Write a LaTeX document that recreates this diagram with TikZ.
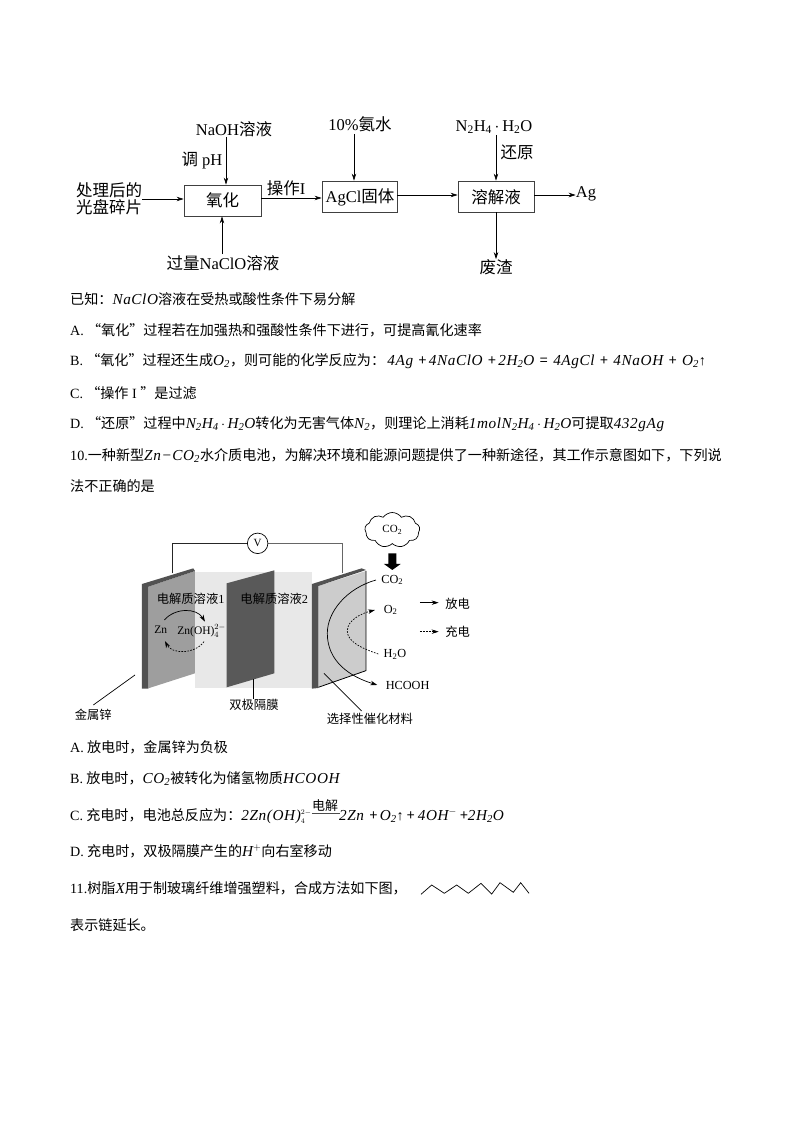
\documentclass[tikz,border=0pt]{standalone}
\usepackage{fontspec}
\usetikzlibrary{shapes.symbols,arrows.meta}
\setmainfont{Noto Sans CJK SC}
\newfontfamily\latfont{Liberation Serif}
\newfontfamily\itf[Scale=1.08,LetterSpace=4]{Liberation Serif}
\newcommand{\Lt}[1]{{\latfont #1}}
\newcommand{\It}[1]{{\itf\itshape #1}}
\newcommand{\dn}[1]{\textsubscript{#1}}
\tikzset{
 body/.style={anchor=base west,inner sep=0pt,font=\fontsize{14.1}{15}\selectfont},
 flow/.style={inner sep=0pt,font=\fontsize{16.5}{18}\selectfont},
 cell/.style={inner sep=0pt,font=\fontsize{12.3}{14}\selectfont},
 fbox/.style={draw=black!75,line width=.8pt,inner sep=0pt},
 arr/.style={-{Stealth[length=7pt,width=4.5pt]},line width=.7pt},
 lead/.style={line width=.7pt},
 dsh/.style={dash pattern=on 1.6pt off 1.4pt}
}
\begin{document}
\begin{tikzpicture}[x=1pt,y=-1pt]
\useasboundingbox (0,0) rectangle (794,1123);
% flow chart
\node[fbox,minimum width=77pt,minimum height=31pt] (b1) at (222.5,200.5) {};
\node[flow] (b1t) at (222.5,200.5) {氧化};
\node[fbox,minimum width=75pt,minimum height=31pt] (b2) at (359.5,196.5) {};
\node[flow] (b2t) at (360,197) {\Lt{AgCl}固体};
\node[fbox,minimum width=76pt,minimum height=31pt] (b3) at (496,196.5) {};
\node[flow] (b3t) at (496,197) {溶解液};
\node[flow] (naoh) at (234,129) {\Lt{NaOH}溶液};
\node[flow] (ph) at (202,161) {调\Lt{ pH}};
\node[flow,align=center] (src) at (109,199) {处理后的\\[-1pt]光盘碎片};
\node[flow] (op) at (286,188) {操作\Lt{I}};
\node[flow] (nh3) at (360,124) {\Lt{10\%}氨水};
\node[flow] (n2) at (494,127) {\Lt{N\dn{2}H\dn{4}\,$\cdot$\,H\dn{2}O}};
\node[flow] (red) at (517,152) {还原};
\node[flow] (ag) at (586,194) {\Lt{Ag}};
\node[flow] (waste) at (496,267) {废渣};
\node[flow] (clo) at (223,263) {过量\Lt{NaClO}溶液};
\coordinate (c1) at (226,137);
\coordinate (c2) at (354,134);
\coordinate (c3) at (496,135);
\coordinate (c4) at (222,254);
\coordinate (y1) at (0,199);
\coordinate (y2) at (0,198);
\coordinate (y3) at (0,195);
\draw[arr] (c1) -- (c1 |- b1.north);
\draw[arr] (c2) -- (c2 |- b2.north);
\draw[arr] (c3) -- (c3 |- b3.north);
\draw[arr] (c4) -- (c4 |- b1.south);
\draw[arr] (src.east |- y1) -- (b1.west |- y1);
\draw[arr] (b1.east |- y2) -- (b2.west |- y2);
\draw[arr] (b2.east |- y3) -- (b3.west |- y3);
\draw[arr] (b3.east |- y3) -- (ag.west |- y3);
\draw[arr] (b3.south) -- (waste.north);
% text block 1
\node[body] (t1) at (70,304) {已知：\It{NaClO}溶液在受热或酸性条件下易分解};
\node[body] (t2) at (70,335) {\Lt{A.} “氧化”过程若在加强热和强酸性条件下进行，可提高氰化速率};
\node[body] (t3) at (70,365) {\Lt{B.} “氧化”过程还生成\It{O\dn{2}}，则可能的化学反应为：\,\It{4Ag} \,+\,\It{4NaClO} \,+\,\It{2H\dn{2}O} \,=\, \It{4AgCl} \,+\, \It{4NaOH} \,+\, \It{O\dn{2}}\Lt{↑}};
\node[body] (t4) at (70,398) {\Lt{C.} “操作\Lt{ I }”是过滤};
\node[body] (t5) at (70,428) {\Lt{D.} “还原”过程中\It{N\dn{2}H\dn{4}\,$\cdot$\,H\dn{2}O}转化为无害气体\It{N\dn{2}}，则理论上消耗\It{1molN\dn{2}H\dn{4}\,$\cdot$\,H\dn{2}O}可提取\It{432gAg}};
\node[body] (t6) at (70,460) {\Lt{10.}一种新型\It{Zn−CO\dn{2}}水介质电池，为解决环境和能源问题提供了一种新途径，其工作示意图如下，下列说};
\node[body] (t7) at (70,491) {法不正确的是};
% battery
\begin{scope}[shift={(60,505)},x=.3333pt,y=-.3333pt]
\fill[black!9] (405,202) rectangle (757,550);
\draw[line width=.8pt,black!85] (337,205) -- (337,115) -- (562,115);
\draw[line width=.8pt,black!60] (625,115) -- (847,115) -- (847,205);
\node[draw,circle,line width=.7pt,minimum size=20.5pt,inner sep=0pt,font=\fontsize{11}{13}\selectfont] (volt) at (593,115) {\Lt{V}};
% left plate
\fill[black!38] (265,245) -- (405,198) -- (405,505) -- (265,550) -- cycle;
\fill[black!68] (246,237) -- (400,190) -- (405,198) -- (265,245) -- (265,551) -- (246,551) -- cycle;
% membrane
\fill[black!65] (500,235) -- (643,196) -- (643,505) -- (500,547) -- cycle;
% right plate
\fill[black!20] (775,243) -- (918,198) -- (918,497) -- (775,547) -- cycle;
\draw[line width=.8pt] (918,198) -- (918,497) -- (775,547);
\fill[black!68] (756,237) -- (905,190) -- (918,195) -- (775,243) -- (775,549) -- (756,551) -- cycle;
% cloud
\node[cloud,draw,line width=.7pt,cloud puffs=9,cloud puff arc=110,aspect=1.6,minimum width=55pt,minimum height=35pt,inner sep=0pt,font=\fontsize{11}{13}\selectfont] (cl) at (997,75) {\Lt{CO\dn{2}}};
\fill[black] (985,145) -- (1009,145) -- (1009,177) -- (1022,177) -- (997,195) -- (972,177) -- (985,177) -- cycle;
% labels
\node[cell] (e1) at (392,280) {电解质溶液\Lt{1}};
\node[cell] (e2) at (643,280) {电解质溶液\Lt{2}};
\node[inner sep=0pt,font=\fontsize{11.5}{14}\selectfont] (zn) at (302,373) {\Lt{Zn}};
\node[inner sep=0pt,font=\fontsize{11.5}{14}\selectfont] (znoh) at (425,378) {\Lt{Zn(OH)$^{2-}_{4}$}};
\node[cell] (co2) at (997,225) {\Lt{CO\dn{2}}};
\node[cell] (o2) at (992,315) {\Lt{O\dn{2}}};
\node[cell] (h2o) at (1005,448) {\Lt{H\dn{2}O}};
\node[cell] (hcooh) at (1043,542) {\Lt{HCOOH}};
\node[cell] (fd) at (1193,295) {放电};
\node[cell] (cd) at (1193,380) {充电};
\node[cell] (zinc) at (100,630) {金属锌};
\node[cell] (mem) at (582,600) {双极隔膜};
\node[cell] (cat) at (930,642) {选择性催化材料};
\coordinate (p1) at (225,510);
\coordinate (p1e) at (100,600);
\coordinate (p2) at (580,522);
\coordinate (p3) at (792,505);
\coordinate (p3e) at (905,618);
\coordinate (l1) at (1080,293);
\coordinate (l1e) at (1136,293);
\coordinate (l2) at (1080,380);
\coordinate (l2e) at (1136,380);
\coordinate (q1) at (948,225);
\coordinate (q1e) at (952,540);
\coordinate (q2) at (955,447);
\coordinate (q2e) at (945,315);
\draw[lead] (p1) -- (p1e);
\draw[lead] (p2) -- (p2 |- mem.north);
\draw[lead] (p3) -- (p3e);
\draw[arr] (l1) -- (l1e);
\draw[arr,dsh] (l2) -- (l2e);
\draw[arr] (q1) .. controls (860,250) and (802,320) .. (802,385) .. controls (802,470) and (870,515) .. (q1e);
\draw[arr,dsh] (q2) .. controls (905,430) and (862,410) .. (862,378) .. controls (862,345) and (905,325) .. (q2e);
\draw[arr] (313,345) .. controls (345,308) and (410,308) .. (435,350);
\draw[arr,dsh] (432,410) .. controls (405,448) and (335,448) .. (315,408);
\end{scope}
% text block 2
\node[body] (u1) at (70,752) {\Lt{A.} 放电时，金属锌为负极};
\node[body] (u2) at (70,783) {\Lt{B.} 放电时，\It{CO\dn{2}}被转化为储氢物质\It{HCOOH}};
\node[body] (u3) at (70,820) {\Lt{C.} 充电时，电池总反应为：\It{2Zn(OH)$^{\scriptscriptstyle 2-}_{\scriptscriptstyle 4}$}};
\node[inner sep=0pt,font=\fontsize{13}{15}\selectfont] (el) at (325,806) {电解};
\draw[line width=.8pt,black!70] (el.south west) ++(0,1) -- ++(28,0);
\node[body] (u3b) at (339,820) {\It{2Zn} \,+\,\It{O\dn{2}}\Lt{↑} + \It{4OH$^{-}$} +\It{2H\dn{2}O}};
\node[body] (u4) at (70,856) {\Lt{D.} 充电时，双极隔膜产生的\It{H$^{+}$}向右室移动};
\node[body] (u5) at (70,893) {\Lt{11.}树脂\It{X}用于制玻璃纤维增强塑料，合成方法如下图，};
\draw[line width=.7pt,line join=miter] (421,894.3) -- (431.7,885) -- (444.3,893.3) -- (456.7,885) -- (468.3,893.3) -- (481,883.3) -- (491.7,894) -- (500,882.7) -- (513.3,892.3) -- (520.7,882.7) -- (529,893.3);
\node[body] (u6) at (70,930) {表示链延长。};
\end{tikzpicture}
\end{document}
